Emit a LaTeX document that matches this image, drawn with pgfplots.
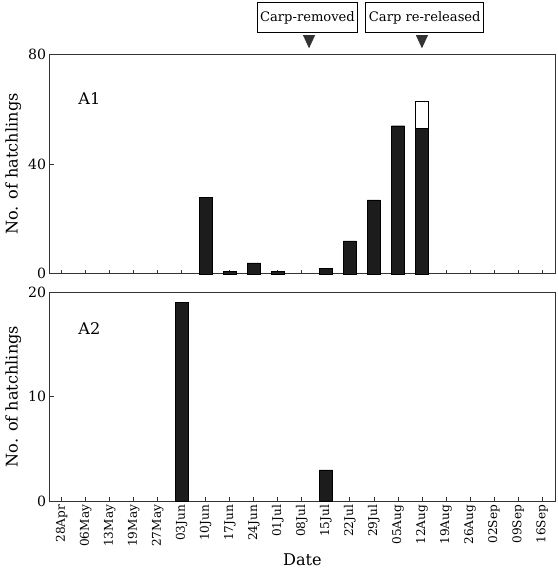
\documentclass[border=2bp]{standalone}
\usepackage{fontspec}
\setmainfont{DejaVu Serif}
\usepackage{pgfplots}
\pgfplotsset{compat=1.18}
\definecolor{barfill}{HTML}{1C1C1C}
\tikzset{carpbox/.style={draw, line width=0.8pt, inner xsep=3bp, minimum height=30bp,
    font=\fontsize{13}{15}\selectfont}}

\begin{document}
\begin{tikzpicture}
\pgfplotsset{
  panel/.style={
    scale only axis, width=500bp,
    xmin=-0.5, xmax=20.55, ymin=0,
    xtick={0,...,20},
    tick align=inside, xtick pos=bottom, ytick pos=left,
    major tick length=4bp,
    axis line style={black!80, line width=1pt},
    tick style={black!80, line width=0.8pt},
    ybar stacked, bar width=13bp,
    /pgf/number format/assume math mode=true,
    tick label style={font=\fontsize{14}{16}\selectfont},
    ylabel style={font=\fontsize{16}{19}\selectfont},
    ylabel={No. of hatchlings},
    clip=false,
  },
}
% A1
\begin{axis}[panel, name=top, height=217bp, ymax=80, ytick={0,40,80},
  xticklabels={}]
\addplot[fill=barfill, draw=black] coordinates {
 (0,0) (1,0) (2,0) (3,0) (4,0) (5,0) (6,28) (7,1) (8,4) (9,1) (10,0)
 (11,2) (12,12) (13,27) (14,54) (15,53) (16,0) (17,0) (18,0) (19,0) (20,0)};
\addplot[fill=white, draw=black] coordinates {
 (0,0) (1,0) (2,0) (3,0) (4,0) (5,0) (6,0) (7,0) (8,0) (9,0) (10,0)
 (11,0) (12,0) (13,0) (14,0) (15,10) (16,0) (17,0) (18,0) (19,0) (20,0)};
\node[anchor=west, font=\fontsize{16}{18}\selectfont] at (axis cs:0.55,64) {A1};
\node[carpbox, anchor=south east] at ([yshift=21bp]axis cs:12.35,80) {Carp-removed};
\node[carpbox, anchor=south west] at ([yshift=21bp]axis cs:12.65,80) {Carp re-released};
\fill[black!80] ([yshift=6bp]axis cs:10.3,80) -- ([xshift=-6bp,yshift=19bp]axis cs:10.3,80)
  -- ([xshift=6bp,yshift=19bp]axis cs:10.3,80) -- cycle;
\fill[black!80] ([yshift=6bp]axis cs:15,80) -- ([xshift=-6bp,yshift=19bp]axis cs:15,80)
  -- ([xshift=6bp,yshift=19bp]axis cs:15,80) -- cycle;
\end{axis}
% A2
\begin{axis}[panel, at={(top.south west)}, anchor=north west, yshift=-18bp,
  height=207bp, ymax=20, ytick={0,10,20},
  xticklabels={28Apr,06May,13May,19May,27May,03Jun,10Jun,17Jun,24Jun,01Jul,08Jul,
    15Jul,22Jul,29Jul,05Aug,12Aug,19Aug,26Aug,02Sep,09Sep,16Sep},
  x tick label style={rotate=90, anchor=east, font=\fontsize{12}{14}\selectfont},
  xlabel={Date}, xlabel style={font=\fontsize{16}{18}\selectfont}]
\addplot[fill=barfill, draw=black] coordinates {
 (0,0) (1,0) (2,0) (3,0) (4,0) (5,19) (6,0) (7,0) (8,0) (9,0) (10,0)
 (11,3) (12,0) (13,0) (14,0) (15,0) (16,0) (17,0) (18,0) (19,0) (20,0)};
\node[anchor=west, font=\fontsize{16}{18}\selectfont] at (axis cs:0.55,16.5) {A2};
\end{axis}
\end{tikzpicture}
\end{document}
